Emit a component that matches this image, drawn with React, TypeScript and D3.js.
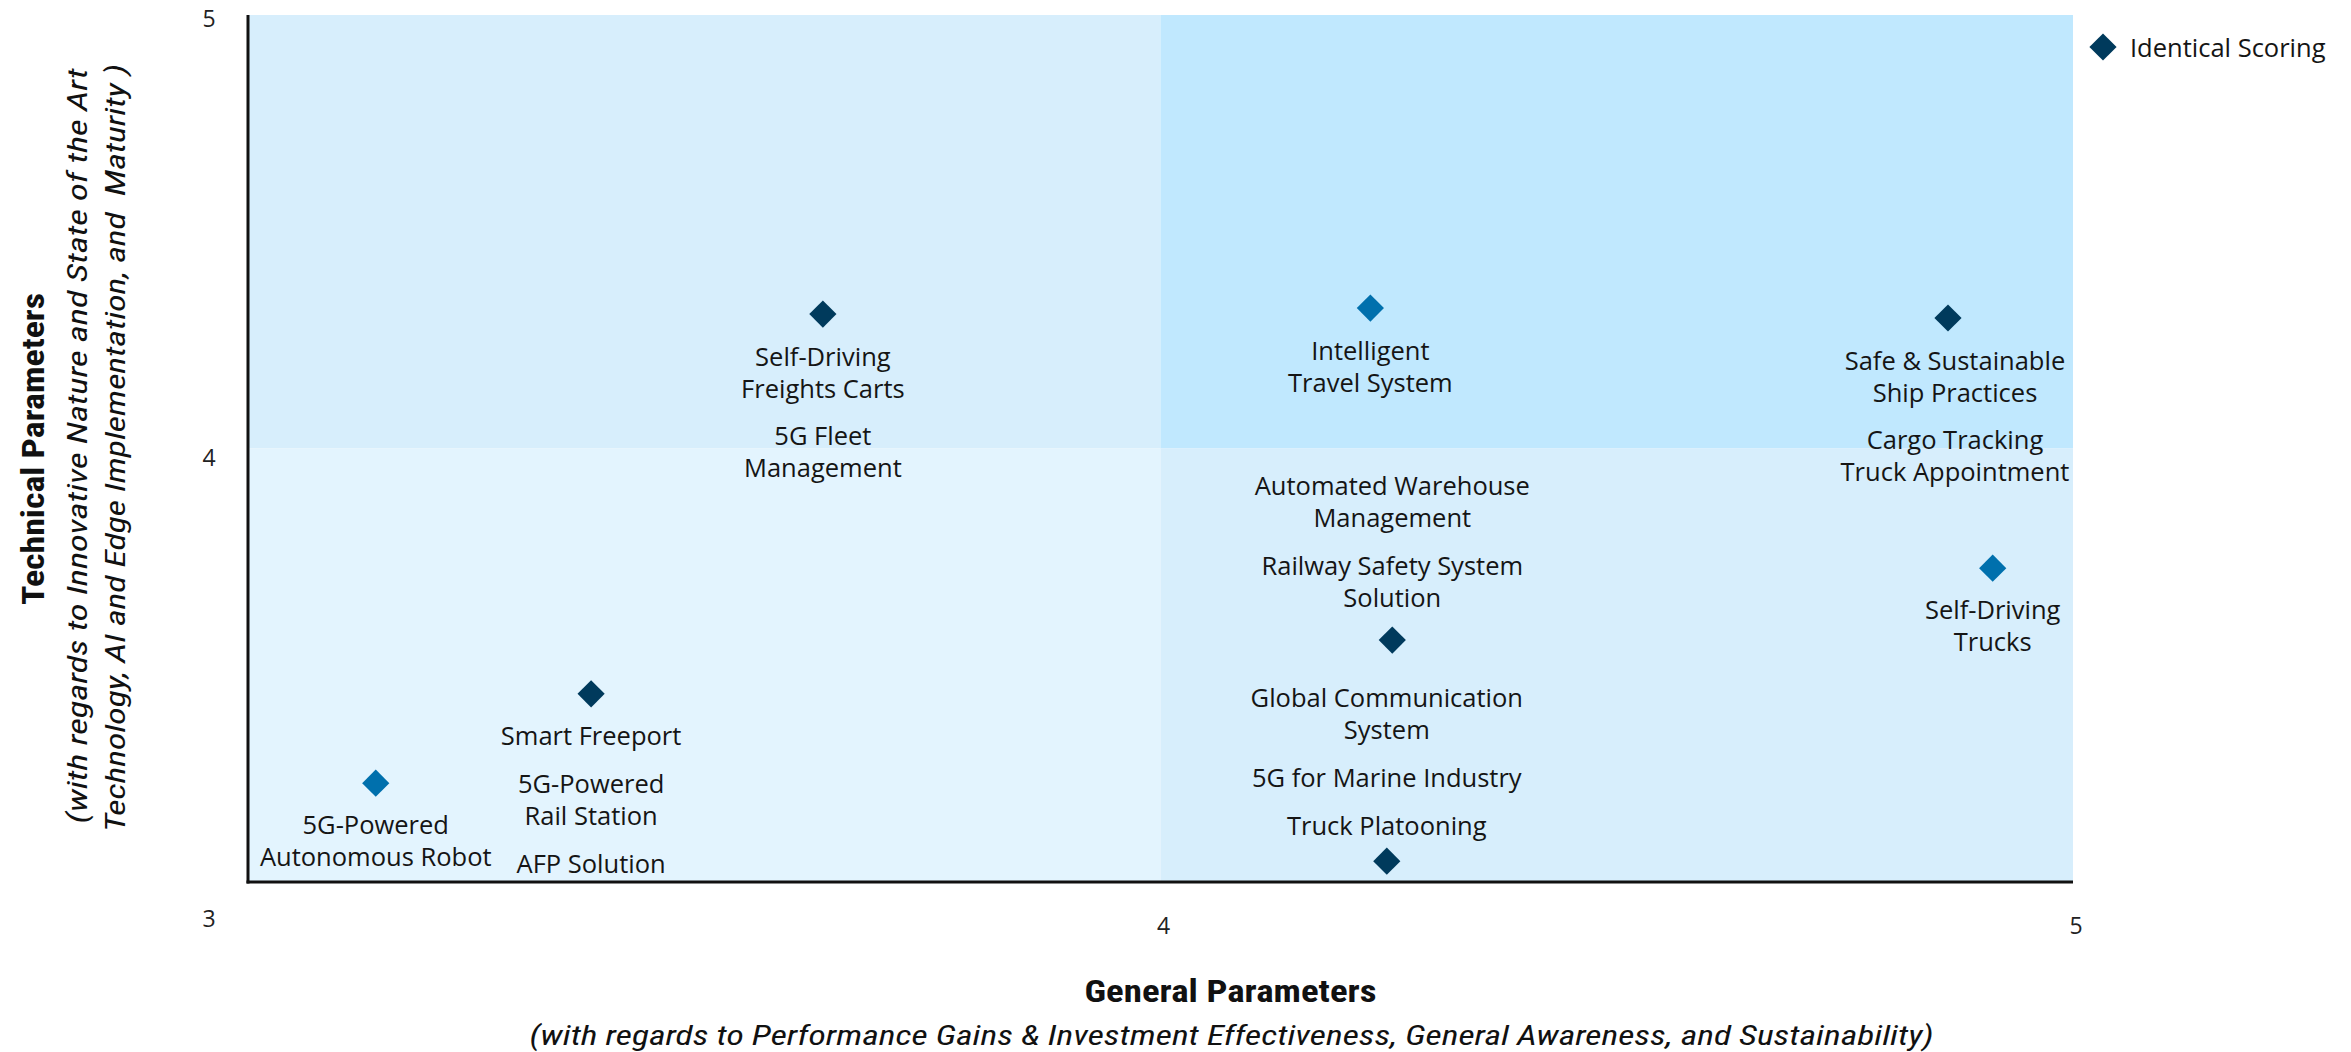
import React, { useEffect, useRef } from 'react';
import * as d3 from 'd3';

// scores (general = x, technical = y)
const generalScores = [3.63, 4.23, 4.863, 4.912, 4.254, 4.248, 3.376, 3.14];
const technicalScores = [4.31, 4.324, 4.301, 3.724, 3.558, 3.048, 3.434, 3.228];
const identicalScoring = [true, false, true, false, true, true, true, false];
const labelGroups = [
  [['Self-Driving', 'Freights Carts'], ['5G Fleet', 'Management']],
  [['Intelligent', 'Travel System']],
  [['Safe & Sustainable', 'Ship Practices'], ['Cargo Tracking', 'Truck Appointment']],
  [['Self-Driving', 'Trucks']],
  [['Automated Warehouse', 'Management'], ['Railway Safety System', 'Solution']],
  [['Global Communication', 'System'], ['5G for Marine Industry'], ['Truck Platooning']],
  [['Smart Freeport'], ['5G-Powered', 'Rail Station'], ['AFP Solution']],
  [['5G-Powered', 'Autonomous Robot']],
];
const xTicks = [4, 5];
const yTicks = [5, 4, 3];
const legendLabel = 'Identical Scoring';
const xTitle = 'General Parameters';
const xSubtitle = '(with regards to Performance Gains & Investment Effectiveness, General Awareness, and Sustainability)';
const yTitle = 'Technical Parameters';
const ySubtitle = [
  '(with regards to Innovative Nature and State of the Art',
  'Technology, AI and Edge Implementation, and  Maturity )',
];

// label placement, px from the marker centre
const labelOffsets = [[42, 121], [42], [42, 121], [41], [-155, -75], [-164, -84, -36], [41, 89, 169], [41]];
const labelShift = [0, 0, 7, 0, 0, 0, 0, 0];

const W = 2351;
const H = 1052;
const DARK = '#003a5c';
const LIGHT = '#0070ad';

const App = () => {
  const svgRef = useRef<SVGSVGElement>(null);

  useEffect(() => {
    const svg = d3.select(svgRef.current);
    svg.selectAll('*').remove();

    const margin = { top: 15, right: 278, bottom: 170, left: 248 };
    const x = d3.scaleLinear().domain([3, 5]).range([margin.left, W - margin.right]);
    const y = d3.scaleLinear().domain([3, 5]).range([H - margin.bottom, margin.top]);
    // tick labels of the source sit a little off the grid
    const yLab = d3.scaleLinear().domain([3, 4, 5]).range([918, 457, 18]);

    // quadrants
    const quads = [
      { x0: 3, x1: 4, y0: 4, y1: 5, fill: '#d7eefc' },
      { x0: 4, x1: 5, y0: 4, y1: 5, fill: '#c0e8fe' },
      { x0: 3, x1: 4, y0: 3, y1: 4, fill: '#e3f4fe' },
      { x0: 4, x1: 5, y0: 3, y1: 4, fill: '#d7eefc' },
    ];
    svg.append('g')
      .selectAll('rect')
      .data(quads)
      .join('rect')
      .attr('x', d => x(d.x0))
      .attr('y', d => y(d.y1))
      .attr('width', d => x(d.x1) - x(d.x0))
      .attr('height', d => y(d.y0) - y(d.y1))
      .attr('fill', d => d.fill);

    // axes lines
    const axis = svg.append('g').attr('stroke', '#111').attr('stroke-width', 3);
    axis.append('line')
      .attr('x1', x(3)).attr('x2', x(3))
      .attr('y1', y(5)).attr('y2', y(3) + 1.5);
    axis.append('line')
      .attr('x1', x(3) - 1.5).attr('x2', x(5))
      .attr('y1', y(3)).attr('y2', y(3));

    // tick labels
    const tickFont = "'Open Sans', sans-serif";
    svg.append('g')
      .selectAll('text')
      .data(yTicks)
      .join('text')
      .attr('x', 209)
      .attr('y', d => yLab(d))
      .attr('text-anchor', 'middle')
      .attr('dominant-baseline', 'central')
      .attr('font-family', tickFont)
      .attr('font-size', 23)
      .attr('fill', '#222')
      .text(d => d);
    svg.append('g')
      .selectAll('text')
      .data(xTicks)
      .join('text')
      .attr('x', d => x(d) + 3)
      .attr('y', 925)
      .attr('text-anchor', 'middle')
      .attr('dominant-baseline', 'central')
      .attr('font-family', tickFont)
      .attr('font-size', 23)
      .attr('fill', '#222')
      .text(d => d);

    // markers
    const diamond = d3.symbol().type(d3.symbolSquare).size(370);
    const pts = generalScores.map((g, i) => ({ g, t: technicalScores[i], same: identicalScoring[i], i }));
    svg.append('g')
      .selectAll('path')
      .data(pts)
      .join('path')
      .attr('d', diamond)
      .attr('transform', d => `translate(${x(d.g)},${y(d.t)}) rotate(45)`)
      .attr('fill', d => (d.same ? DARK : LIGHT));

    // labels
    const lineGap = 32;
    const labels = svg.append('g')
      .attr('font-family', tickFont)
      .attr('font-size', 25.5)
      .attr('fill', '#151515')
      .attr('text-anchor', 'middle')
      .attr('dominant-baseline', 'central');
    pts.forEach(p => {
      labelGroups[p.i].forEach((lines, gi) => {
        lines.forEach((line, li) => {
          labels.append('text')
            .attr('x', x(p.g) + labelShift[p.i])
            .attr('y', y(p.t) + labelOffsets[p.i][gi] + li * lineGap)
            .text(line);
        });
      });
    });

    // legend
    const legend = svg.append('g').attr('transform', `translate(${x(5) + 30},47)`);
    legend.append('path')
      .attr('d', diamond)
      .attr('transform', 'rotate(45)')
      .attr('fill', DARK);
    legend.append('text')
      .attr('x', 27)
      .attr('dominant-baseline', 'central')
      .attr('font-family', tickFont)
      .attr('font-size', 25.5)
      .attr('fill', '#151515')
      .text(legendLabel);

    // axis titles
    const narrow = "'Liberation Sans Narrow', 'Roboto Condensed', Roboto, sans-serif";
    const cx = (x(3) + x(5)) / 2;
    svg.append('text')
      .attr('x', cx + 70)
      .attr('y', 991)
      .attr('text-anchor', 'middle')
      .attr('dominant-baseline', 'central')
      .attr('font-family', narrow)
      .attr('font-weight', 'bold')
      .attr('font-size', 31)
      .attr('textLength', 292)
      .attr('lengthAdjust', 'spacingAndGlyphs')
      .attr('fill', '#111')
      .text(xTitle);
    svg.append('text')
      .attr('x', cx + 71)
      .attr('y', 1035)
      .attr('text-anchor', 'middle')
      .attr('dominant-baseline', 'central')
      .attr('font-family', narrow)
      .attr('font-style', 'italic')
      .attr('font-size', 28)
      .attr('textLength', 1404)
      .attr('lengthAdjust', 'spacingAndGlyphs')
      .attr('fill', '#111')
      .text(xSubtitle);

    const cy = 449;
    svg.append('text')
      .attr('transform', `translate(33,${cy}) rotate(-90)`)
      .attr('text-anchor', 'middle')
      .attr('dominant-baseline', 'central')
      .attr('font-family', narrow)
      .attr('font-weight', 'bold')
      .attr('font-size', 31)
      .attr('textLength', 312)
      .attr('lengthAdjust', 'spacingAndGlyphs')
      .attr('fill', '#111')
      .text(yTitle);
    ySubtitle.forEach((line, i) => {
      svg.append('text')
        .attr('transform', `translate(${77 + i * 38},${cy - 3 + i * 2}) rotate(-90)`)
        .attr('text-anchor', 'middle')
        .attr('dominant-baseline', 'central')
        .attr('font-family', narrow)
        .attr('font-style', 'italic')
        .attr('font-size', 28)
        .attr('textLength', i === 0 ? 755 : 768)
        .attr('lengthAdjust', 'spacingAndGlyphs')
        .attr('fill', '#111')
        .style('white-space', 'pre')
        .text(line);
    });
  }, []);

  return (
    <svg
      ref={svgRef}
      width={W}
      height={H}
      style={{ position: 'absolute', left: 0, top: 0, display: 'block', background: '#fff' }}
    />
  );
};

export default App;
